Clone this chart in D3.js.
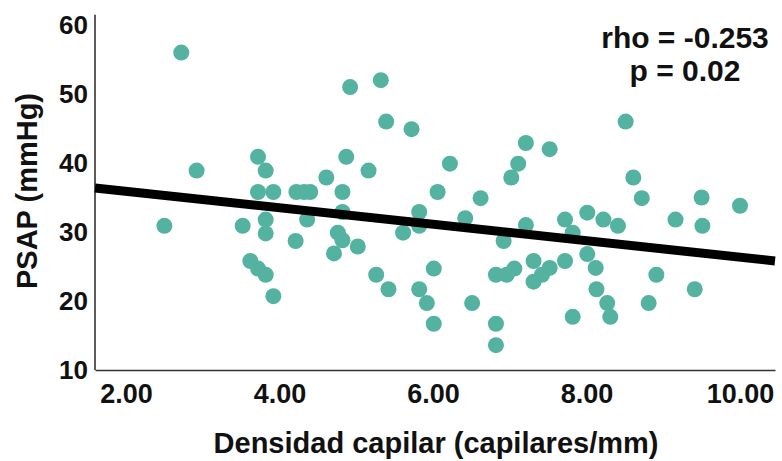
<!DOCTYPE html>
<html>
<head>
<meta charset="utf-8">
<script src="https://cdn.jsdelivr.net/npm/d3@7"></script>
<style>
  body { margin: 0; background: #fff; }
  text { font-family: "Liberation Sans", Arial, sans-serif; }
</style>
</head>
<body>
<div id="chart"></div>
<script>
// capillary density (capilares/mm) for each patient
var density = [2.72, 2.92, 3.72, 3.82, 3.72, 3.92, 4.22, 4.32, 4.40, 4.61,
  4.82, 4.87, 4.92, 5.16, 5.32, 5.39, 5.72, 6.06, 6.22, 6.62,
  7.02, 7.11, 7.21, 7.52, 8.51, 8.61, 8.72, 9.50, 10.00, 2.50,
  3.52, 3.82, 3.82, 4.36, 4.21, 3.62, 3.72, 3.82, 3.92, 4.82,
  4.76, 4.82, 4.71, 5.02, 5.26, 5.42, 5.61, 5.82, 5.82, 6.01,
  5.82, 5.92, 6.01, 6.42, 6.51, 6.82, 6.96, 7.06, 6.92, 7.21,
  7.31, 7.31, 6.82, 6.82, 7.42, 7.52, 7.72, 7.82, 7.72, 7.82,
  8.01, 8.22, 8.41, 8.01, 8.12, 8.13, 8.27, 8.31, 9.16, 9.51,
  8.91, 8.81, 9.41];
// PSAP (mmHg), same order
var psap = [56.0, 38.9, 40.9, 38.9, 35.8, 35.8, 35.8, 35.8, 35.8, 37.9,
  35.8, 40.9, 51.0, 38.9, 52.0, 46.0, 44.9, 35.8, 39.9, 34.9,
  37.9, 39.9, 42.9, 42.0, 46.0, 37.9, 34.9, 35.0, 33.8, 30.9,
  30.9, 31.8, 29.8, 31.8, 28.7, 25.8, 24.7, 23.8, 20.7, 32.9,
  29.9, 28.8, 26.9, 27.9, 23.8, 21.7, 29.9, 32.9, 30.9, 24.7,
  21.7, 19.7, 16.7, 32.0, 19.7, 23.8, 23.8, 24.7, 28.7, 31.0,
  25.8, 22.8, 16.7, 13.6, 23.8, 24.8, 31.8, 29.9, 25.8, 17.7,
  32.8, 31.8, 30.9, 26.8, 24.8, 21.7, 19.7, 17.7, 31.8, 30.9,
  23.8, 19.7, 21.7];

var xTicks = [2, 4, 6, 8, 10];
var yTicks = [10, 20, 30, 40, 50, 60];

// fitted line: psap = intercept + slope * density
var fitIntercept = 38.29;
var fitSlope = -1.194;

var statLines = ["rho = -0.253", "p = 0.02"];

var width = 782, height = 461;
var margin = {top: 20, right: 7, bottom: 91, left: 95};

var svg = d3.select("#chart").append("svg")
  .attr("width", width).attr("height", height);

var x = d3.scaleLinear().domain([1.596, 10.456]).range([margin.left, width - margin.right]);
// 60 sits at y=25 and 10 at y=370, axis line runs a little above 60
var y = d3.scaleLinear().domain([10, 60]).range([height - margin.bottom, 25]);
var yTop = 61.5;

var points = density.map(function(d, i){ return {x: d, y: psap[i]}; });

// x axis
var xAxis = svg.append("g")
  .attr("transform", "translate(0," + (height - margin.bottom) + ")")
  .call(d3.axisBottom(x).tickValues(xTicks).tickSize(0).tickPadding(14)
    .tickFormat(d3.format(".2f")));
xAxis.select(".domain").attr("stroke", "#333").attr("stroke-width", 1.6);
xAxis.selectAll("text").attr("font-size", 27).attr("font-weight", "bold").attr("fill", "#111");

// y axis
var yAxis = svg.append("g")
  .attr("transform", "translate(" + margin.left + ",0)")
  .call(d3.axisLeft(y).tickValues(yTicks).tickSize(0).tickPadding(7));
yAxis.select(".domain")
  .attr("d", "M0," + y(10) + "V" + y(yTop))
  .attr("stroke", "#333").attr("stroke-width", 1.6);
yAxis.selectAll("text").attr("font-size", 26).attr("font-weight", "bold").attr("fill", "#111");

// points
svg.append("g").selectAll("circle").data(points).enter().append("circle")
  .attr("cx", function(d){ return x(d.x); })
  .attr("cy", function(d){ return y(d.y); })
  .attr("r", 8)
  .attr("fill", "#53b3a0");

// fit line
var xd = x.domain();
svg.append("line")
  .attr("x1", x(xd[0])).attr("y1", y(fitIntercept + fitSlope * xd[0]))
  .attr("x2", x(xd[1])).attr("y2", y(fitIntercept + fitSlope * xd[1]))
  .attr("stroke", "#000").attr("stroke-width", 9);

// axis titles
svg.append("text")
  .attr("x", 436)
  .attr("y", 453)
  .attr("text-anchor", "middle")
  .attr("font-size", 29).attr("font-weight", "bold").attr("fill", "#111")
  .text("Densidad capilar (capilares/mm)");

svg.append("text")
  .attr("transform", "translate(37,191) rotate(-90)")
  .attr("text-anchor", "middle")
  .attr("font-size", 29).attr("font-weight", "bold").attr("fill", "#111")
  .text("PSAP (mmHg)");

// correlation annotation
svg.append("g").selectAll("text").data(statLines).enter().append("text")
  .attr("x", 685)
  .attr("y", function(d, i){ return 48 + i * 33; })
  .attr("text-anchor", "middle")
  .attr("font-size", 30).attr("font-weight", "bold").attr("fill", "#111")
  .text(function(d){ return d; });
</script>
</body>
</html>
